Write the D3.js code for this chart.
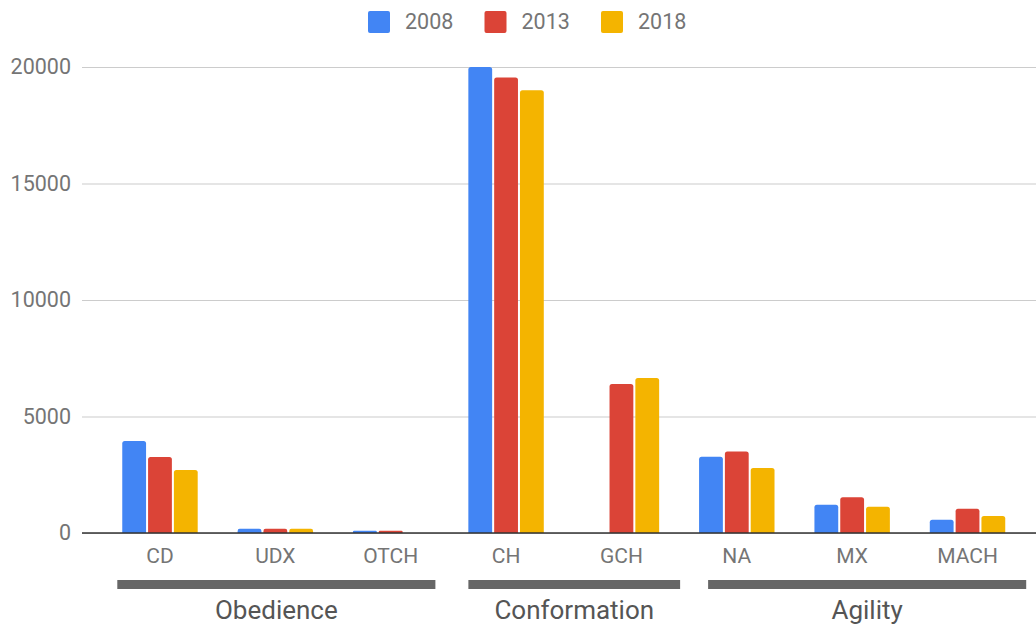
<!DOCTYPE html>
<html>
<head>
<meta charset="utf-8">
<script src="https://cdn.jsdelivr.net/npm/d3@7"></script>
<style>
  html, body { margin: 0; padding: 0; background: #fff; }
  svg { display: block; font-family: Roboto, "Noto Sans", sans-serif; }
</style>
</head>
<body>
<div id="chart"></div>
<script>
// data
const categories = ['CD', 'UDX', 'OTCH', 'CH', 'GCH', 'NA', 'MX', 'MACH'];
const years = ['2008', '2013', '2018'];
const values2008 = [3950, 180, 100, 20000, null, 3270, 1215, 570];
const values2013 = [3260, 180, 100, 19550, 6400, 3500, 1530, 1040];
const values2018 = [2700, 180, null, 19000, 6650, 2790, 1130, 730];
const groupNames = ['Obedience', 'Conformation', 'Agility'];
const groupFirst = ['CD', 'CH', 'NA'];
const groupLast = ['OTCH', 'GCH', 'MACH'];
const yTicks = [0, 5000, 10000, 15000, 20000];

const colors = ['#4285f4', '#db4437', '#f4b400'];
const width = 1036, height = 625;
const margin = { top: 67, right: 11, bottom: 92, left: 102 };

const series = [values2008, values2013, values2018];
const rows = categories.map((c, i) => ({
  cat: c,
  vals: years.map((yr, j) => ({ year: yr, value: series[j][i], color: colors[j] }))
}));

const svg = d3.select('#chart').append('svg')
  .attr('width', width).attr('height', height);

const x0 = d3.scaleBand().domain(categories)
  .range([margin.left + 0.3, width - margin.right + 0.2]);
const bw = x0.bandwidth();
const x1 = d3.scaleBand().domain(years)
  .range([bw * 0.173, bw * 0.827]).paddingInner(0.078);
const y = d3.scaleLinear().domain([0, 20000]).range([height - margin.bottom, margin.top]);

// grid
const grid = d3.axisLeft(y).tickValues(yTicks).tickSize(-(width - 82)).tickFormat(d => d);
svg.append('g')
  .attr('transform', 'translate(82,0)')
  .call(grid)
  .call(g => g.select('.domain').remove())
  .call(g => g.selectAll('.tick line').attr('stroke', '#cccccc').attr('stroke-width', 1.2))
  .call(g => g.selectAll('.tick text')
    .attr('x', -11).attr('fill', '#757575')
    .style('font-size', '21.5px').style('font-family', 'Roboto'));

// rounded-top bar path
function barPath(xp, w, y0, y1) {
  const h = y0 - y1;
  const r = Math.min(2.5, h / 2, w / 2);
  return `M${xp},${y0}V${y1 + r}Q${xp},${y1} ${xp + r},${y1}H${xp + w - r}Q${xp + w},${y1} ${xp + w},${y1 + r}V${y0}Z`;
}

svg.append('g').selectAll('g')
  .data(rows).join('g')
  .attr('transform', d => `translate(${x0(d.cat)},0)`)
  .selectAll('path')
  .data(d => d.vals.filter(v => v.value != null))
  .join('path')
  .attr('fill', d => d.color)
  .attr('d', d => barPath(x1(d.year), x1.bandwidth(), y(0), y(d.value)));

// baseline
svg.append('line')
  .attr('x1', 82).attr('x2', width)
  .attr('y1', y(0)).attr('y2', y(0))
  .attr('stroke', '#333').attr('stroke-width', 1.5);

// category labels
const xAxis = d3.axisBottom(x0).tickSize(0).tickPadding(15);
svg.append('g')
  .attr('transform', `translate(0,${y(0)})`)
  .call(xAxis)
  .call(g => g.select('.domain').remove())
  .call(g => g.selectAll('.tick text')
    .attr('fill', '#757575').attr('dy', '0.71em')
    .style('font-size', '21px').style('font-family', 'Roboto'));

// group bars and labels
const groupInset = [[15, 13], [20, -1], [29, -1]];
const groups = svg.append('g').selectAll('g')
  .data(groupNames).join('g');
groups.append('rect')
  .attr('x', (d, i) => x0(groupFirst[i]) + groupInset[i][0])
  .attr('width', (d, i) => x0(groupLast[i]) + bw - groupInset[i][1] - x0(groupFirst[i]) - groupInset[i][0])
  .attr('y', 580).attr('height', 9)
  .attr('fill', '#666');
groups.append('text')
  .attr('x', (d, i) => (x0(groupFirst[i]) + groupInset[i][0] + x0(groupLast[i]) + bw - groupInset[i][1]) / 2)
  .attr('y', 619)
  .attr('text-anchor', 'middle')
  .attr('fill', '#555')
  .style('font-size', '26px')
  .text(d => d);

// legend
const legend = svg.append('g').selectAll('g')
  .data(years).join('g')
  .attr('transform', (d, i) => `translate(${368 + i * 116.5},11)`);
legend.append('rect')
  .attr('width', 22).attr('height', 22).attr('rx', 2)
  .attr('fill', (d, i) => colors[i]);
legend.append('text')
  .attr('x', 37).attr('y', 18)
  .attr('fill', '#757575')
  .style('font-size', '21.5px')
  .text(d => d);
</script>
</body>
</html>
